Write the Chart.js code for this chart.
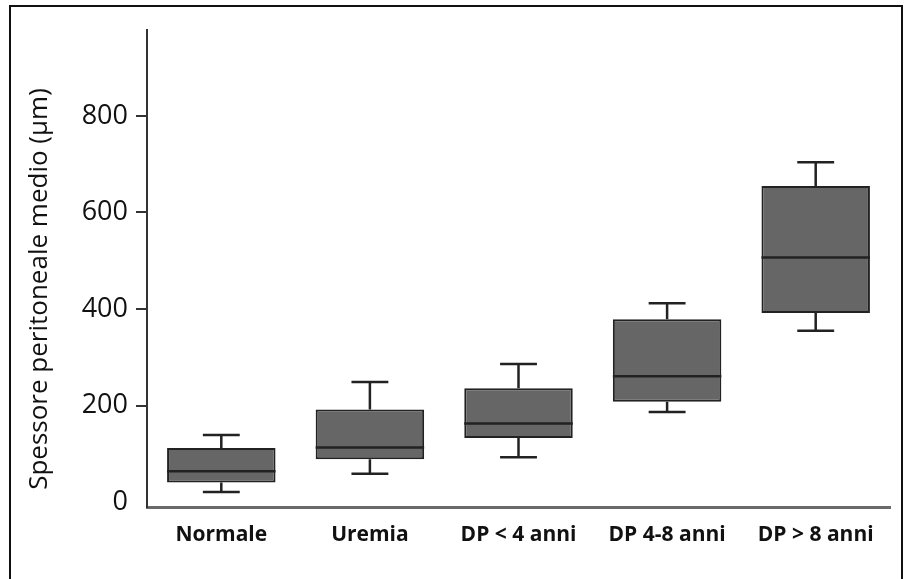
<!DOCTYPE html>
<html>
<head>
<meta charset="utf-8">
<script src="https://cdn.jsdelivr.net/npm/chart.js@4"></script>
<style>
  html, body { margin: 0; padding: 0; background: #fff; }
  #wrap { position: relative; width: 906px; height: 579px; overflow: hidden; }
  #frame { position: absolute; left: 9px; top: 5px; width: 890px; height: 600px; border: 2px solid #111; }
  canvas { position: absolute; left: 0; top: 0; }
</style>
</head>
<body>
<div id="wrap">
  <div id="frame"></div>
  <canvas id="boxChart" width="906" height="579"></canvas>
</div>
<script>
const categories = ['Normale', 'Uremia', 'DP < 4 anni', 'DP 4-8 anni', 'DP > 8 anni'];
const whiskerLow = [21, 59, 93, 187, 355];
const q1 = [41, 89, 133, 208, 392];
const median = [64, 113, 163, 261, 507];
const q3 = [112, 192, 236, 379, 655];
const whiskerHigh = [139, 249, 286, 412, 704];
const yTicks = [0, 200, 400, 600, 800];
const yTitle = 'Spessore peritoneale medio (\u00b5m)';

Chart.defaults.font.family = "'Open Sans', sans-serif";
Chart.defaults.color = '#111';

// medians and whiskers drawn on top of the floating bars
const boxWhiskers = {
  id: 'boxWhiskers',
  afterDatasetsDraw(chart) {
    const { ctx, scales: { y } } = chart;
    const meta = chart.getDatasetMeta(0);
    ctx.save();
    ctx.strokeStyle = '#222';
    ctx.lineWidth = 2.5;
    meta.data.forEach((bar, i) => {
      const half = bar.width / 2;
      const cap = bar.width * 0.17;
      const yMed = y.getPixelForValue(median[i]);
      const yHi = y.getPixelForValue(whiskerHigh[i]);
      const yLo = y.getPixelForValue(whiskerLow[i]);
      const yQ1 = y.getPixelForValue(q1[i]);
      const yQ3 = y.getPixelForValue(q3[i]);
      ctx.beginPath();
      ctx.moveTo(bar.x - half, yMed);
      ctx.lineTo(bar.x + half, yMed);
      ctx.moveTo(bar.x, yQ3);
      ctx.lineTo(bar.x, yHi);
      ctx.moveTo(bar.x - cap, yHi);
      ctx.lineTo(bar.x + cap, yHi);
      ctx.moveTo(bar.x, yQ1);
      ctx.lineTo(bar.x, yLo);
      ctx.moveTo(bar.x - cap, yLo);
      ctx.lineTo(bar.x + cap, yLo);
      ctx.stroke();
    });
    ctx.restore();
  },
  afterDraw(chart) {
    const { ctx } = chart;
    ctx.save();
    ctx.translate(40, 289);
    ctx.rotate(-Math.PI / 2);
    ctx.font = "26px 'Open Sans'";
    ctx.fillStyle = '#111';
    ctx.textAlign = 'center';
    ctx.textBaseline = 'middle';
    ctx.fillText(yTitle, 0, 0);
    ctx.restore();
  }
};

new Chart(document.getElementById('boxChart').getContext('2d'), {
  type: 'bar',
  data: {
    labels: categories,
    datasets: [{
      data: q1.map((v, i) => [v, q3[i]]),
      backgroundColor: '#666666',
      borderColor: '#222',
      borderWidth: 2,
      borderSkipped: false,
      barPercentage: 0.73,
      categoryPercentage: 1
    }]
  },
  options: {
    responsive: false,
    animation: false,
    devicePixelRatio: 1,
    layout: { padding: { top: 30, right: 16, left: 0, bottom: 0 } },
    plugins: { legend: { display: false }, tooltip: { enabled: false } },
    scales: {
      x: {
        grid: { display: false, drawTicks: false },
        border: { display: true, color: '#6a6a6a', width: 3 },
        ticks: { padding: 15, font: { size: 21, weight: 'bold' }, color: '#111' },
        afterFit(scale) { scale.height = 72; }
      },
      y: {
        min: -10,
        max: 978,
        afterBuildTicks(scale) { scale.ticks = yTicks.map(v => ({ value: v })); },
        grid: {
          drawOnChartArea: false,
          drawTicks: true,
          tickLength: 11,
          lineWidth: 2,
          color: ctx => ctx.tick && ctx.tick.value === 0 ? 'rgba(0,0,0,0)' : '#333'
        },
        border: { display: true, color: '#333', width: 2 },
        ticks: { padding: 8, font: { size: 27 }, color: '#111' },
        afterFit(scale) { scale.width = 147; }
      }
    }
  },
  plugins: [boxWhiskers]
});
</script>
</body>
</html>
